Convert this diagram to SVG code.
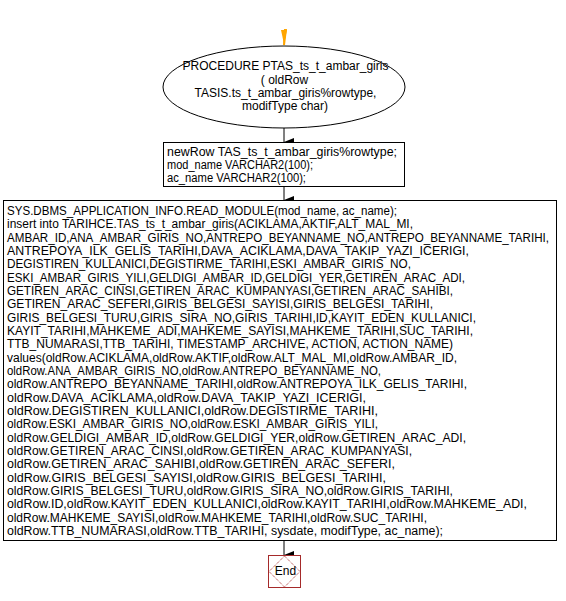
<svg xmlns="http://www.w3.org/2000/svg" width="566" height="601" viewBox="0 0 566 601">
<style>
text{font-family:"Liberation Sans",Arial,sans-serif;font-size:12px;fill:#000}
.shape{fill:#fff;stroke:#000;stroke-width:1}
.conn{stroke:#000;stroke-width:1;fill:none}
</style>
<defs>
<marker id="ah" markerWidth="8" markerHeight="10" refX="4" refY="10" orient="auto" markerUnits="userSpaceOnUse" viewBox="0 0 8 10"><path d="M0,0 L8,0 L4,10 Z" fill="#000"/></marker>
</defs>
<rect width="566" height="601" fill="#fff"/>
<g id="connectors">
<path d="M284,29 L287,29 L285,45 L283,45 Z" fill="#ffa500"/>
<path d="M281,30 L287,30 L284,44 Z" fill="#ffa500"/>
<line class="conn" x1="284" y1="128" x2="284" y2="142" marker-end="url(#ah)"/>
<line class="conn" x1="284" y1="187" x2="284" y2="200" marker-end="url(#ah)"/>
<line class="conn" x1="284" y1="540" x2="284" y2="555" marker-end="url(#ah)"/>
</g>
<g id="start">
<ellipse class="shape" cx="284" cy="87" rx="121" ry="41"/>
<text x="285.5" y="70" text-anchor="middle">PROCEDURE PTAS_ts_t_ambar_giris</text>
<text x="284.5" y="83.5" text-anchor="middle">( oldRow</text>
<text x="285.5" y="97" text-anchor="middle">TASIS.ts_t_ambar_giris%rowtype,</text>
<text x="285" y="110" text-anchor="middle">modifType char)</text>
</g>
<g id="decl">
<rect class="shape" x="163.5" y="142.5" width="241" height="44"/>
<text x="167" y="156" textLength="230" lengthAdjust="spacingAndGlyphs">newRow TAS_ts_t_ambar_giris%rowtype;</text>
<text x="167" y="169" textLength="146" lengthAdjust="spacingAndGlyphs">mod_name VARCHAR2(100);</text>
<text x="167" y="182" textLength="139" lengthAdjust="spacingAndGlyphs">ac_name VARCHAR2(100);</text>
</g>
<g id="body">
<rect class="shape" x="3.5" y="200.5" width="553" height="340"/>
<text x="7" y="215" textLength="390" lengthAdjust="spacingAndGlyphs">SYS.DBMS_APPLICATION_INFO.READ_MODULE(mod_name, ac_name);</text>
<text x="7" y="228.3" textLength="406" lengthAdjust="spacingAndGlyphs">insert into TARIHCE.TAS_ts_t_ambar_giris(ACIKLAMA,AKTIF,ALT_MAL_MI,</text>
<text x="7" y="241.7" font-size="11.7px" textLength="542" lengthAdjust="spacingAndGlyphs">AMBAR_ID,ANA_AMBAR_GIRIS_NO,ANTREPO_BEYANNAME_NO,ANTREPO_BEYANNAME_TARIHI,</text>
<text x="7" y="255" textLength="462" lengthAdjust="spacingAndGlyphs">ANTREPOYA_ILK_GELIS_TARIHI,DAVA_ACIKLAMA,DAVA_TAKIP_YAZI_ICERIGI,</text>
<text x="7" y="268.3" textLength="404" lengthAdjust="spacingAndGlyphs">DEGISTIREN_KULLANICI,DEGISTIRME_TARIHI,ESKI_AMBAR_GIRIS_NO,</text>
<text x="7" y="281.7" textLength="458" lengthAdjust="spacingAndGlyphs">ESKI_AMBAR_GIRIS_YILI,GELDIGI_AMBAR_ID,GELDIGI_YER,GETIREN_ARAC_ADI,</text>
<text x="7" y="295" textLength="446" lengthAdjust="spacingAndGlyphs">GETIREN_ARAC_CINSI,GETIREN_ARAC_KUMPANYASI,GETIREN_ARAC_SAHIBI,</text>
<text x="7" y="308.3" textLength="426" lengthAdjust="spacingAndGlyphs">GETIREN_ARAC_SEFERI,GIRIS_BELGESI_SAYISI,GIRIS_BELGESI_TARIHI,</text>
<text x="7" y="321.7" textLength="469" lengthAdjust="spacingAndGlyphs">GIRIS_BELGESI_TURU,GIRIS_SIRA_NO,GIRIS_TARIHI,ID,KAYIT_EDEN_KULLANICI,</text>
<text x="7" y="335" textLength="466" lengthAdjust="spacingAndGlyphs">KAYIT_TARIHI,MAHKEME_ADI,MAHKEME_SAYISI,MAHKEME_TARIHI,SUC_TARIHI,</text>
<text x="7" y="348.3" textLength="446" lengthAdjust="spacingAndGlyphs">TTB_NUMARASI,TTB_TARIHI, TIMESTAMP_ARCHIVE, ACTION, ACTION_NAME)</text>
<text x="7" y="361.7" textLength="450" lengthAdjust="spacingAndGlyphs">values(oldRow.ACIKLAMA,oldRow.AKTIF,oldRow.ALT_MAL_MI,oldRow.AMBAR_ID,</text>
<text x="7" y="375" textLength="374" lengthAdjust="spacingAndGlyphs">oldRow.ANA_AMBAR_GIRIS_NO,oldRow.ANTREPO_BEYANNAME_NO,</text>
<text x="7" y="388.3" textLength="460" lengthAdjust="spacingAndGlyphs">oldRow.ANTREPO_BEYANNAME_TARIHI,oldRow.ANTREPOYA_ILK_GELIS_TARIHI,</text>
<text x="7" y="401.7" textLength="359" lengthAdjust="spacingAndGlyphs">oldRow.DAVA_ACIKLAMA,oldRow.DAVA_TAKIP_YAZI_ICERIGI,</text>
<text x="7" y="415" textLength="371" lengthAdjust="spacingAndGlyphs">oldRow.DEGISTIREN_KULLANICI,oldRow.DEGISTIRME_TARIHI,</text>
<text x="7" y="428.3" textLength="371" lengthAdjust="spacingAndGlyphs">oldRow.ESKI_AMBAR_GIRIS_NO,oldRow.ESKI_AMBAR_GIRIS_YILI,</text>
<text x="7" y="441.7" textLength="459" lengthAdjust="spacingAndGlyphs">oldRow.GELDIGI_AMBAR_ID,oldRow.GELDIGI_YER,oldRow.GETIREN_ARAC_ADI,</text>
<text x="7" y="455" textLength="405" lengthAdjust="spacingAndGlyphs">oldRow.GETIREN_ARAC_CINSI,oldRow.GETIREN_ARAC_KUMPANYASI,</text>
<text x="7" y="468.3" textLength="388" lengthAdjust="spacingAndGlyphs">oldRow.GETIREN_ARAC_SAHIBI,oldRow.GETIREN_ARAC_SEFERI,</text>
<text x="7" y="481.7" textLength="379" lengthAdjust="spacingAndGlyphs">oldRow.GIRIS_BELGESI_SAYISI,oldRow.GIRIS_BELGESI_TARIHI,</text>
<text x="7" y="495" textLength="446" lengthAdjust="spacingAndGlyphs">oldRow.GIRIS_BELGESI_TURU,oldRow.GIRIS_SIRA_NO,oldRow.GIRIS_TARIHI,</text>
<text x="7" y="508.3" textLength="520" lengthAdjust="spacingAndGlyphs">oldRow.ID,oldRow.KAYIT_EDEN_KULLANICI,oldRow.KAYIT_TARIHI,oldRow.MAHKEME_ADI,</text>
<text x="7" y="521.7" textLength="420" lengthAdjust="spacingAndGlyphs">oldRow.MAHKEME_SAYISI,oldRow.MAHKEME_TARIHI,oldRow.SUC_TARIHI,</text>
<text x="7" y="535" textLength="436" lengthAdjust="spacingAndGlyphs">oldRow.TTB_NUMARASI,oldRow.TTB_TARIHI, sysdate, modifType, ac_name);</text>
</g>
<g id="end">
<rect x="268.5" y="555.5" width="32" height="32" fill="#fff" stroke="#a52a2a" stroke-width="1"/>
<path d="M284.5,556 L300,571.5 L284.5,587 L269,571.5 Z" fill="none" stroke="#a52a2a" stroke-width="1" stroke-dasharray="1,1"/>
<text x="285.5" y="575" text-anchor="middle">End</text>
</g>
</svg>
